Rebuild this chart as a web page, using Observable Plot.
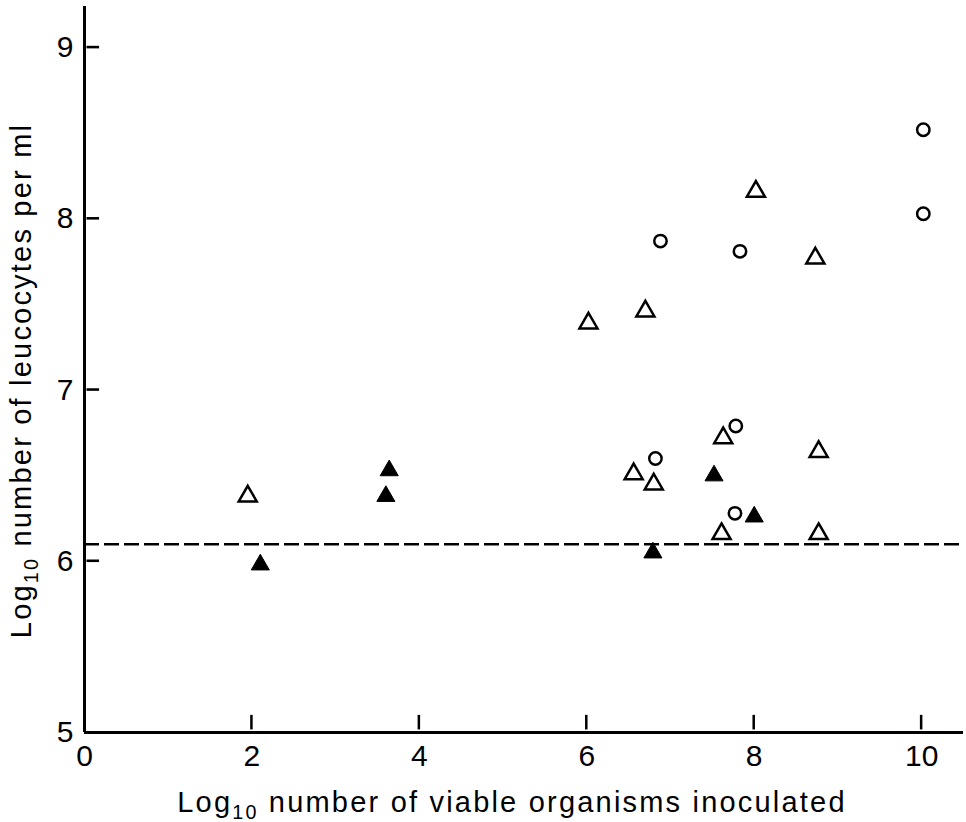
<!DOCTYPE html>
<html><head><meta charset="utf-8">
<script src="https://cdn.jsdelivr.net/npm/d3@7"></script>
<script src="https://cdn.jsdelivr.net/npm/@observablehq/plot@0.6"></script>
<style>
html,body{margin:0;padding:0;background:#fff;}
</style></head><body><div id="chart"></div>
<script>
// Tick values and axis titles
const xTicks = [0, 2, 4, 6, 8, 10];
const yTicks = [5, 6, 7, 8, 9];
const xLabel = "Log10 number of viable organisms inoculated";
const yLabel = "Log10 number of leucocytes per ml";

// Open triangles
const openTriX = [1.95, 6.02, 6.70, 8.02, 8.73, 6.56, 6.80, 7.63, 8.77, 7.61, 8.77];
const openTriY = [6.38, 7.39, 7.46, 8.16, 7.77, 6.51, 6.45, 6.72, 6.64, 6.16, 6.16];
// Open circles
const circleX = [6.82, 7.78, 7.77, 6.88, 7.83, 10.02, 10.02];
const circleY = [6.60, 6.79, 6.28, 7.87, 7.81, 8.52, 8.03];
// Filled triangles
const solidTriX = [2.10, 3.64, 3.60, 6.79, 7.52, 8.00];
const solidTriY = [5.98, 6.53, 6.38, 6.05, 6.50, 6.26];
// Dashed reference level
const baseline = [6.1];

const xDomain = [0, 10.5];
const yDomain = [5, 9.24];
// inward tick geometry, in data units
const yTickStart = 0.03, yTickEnd = 0.18, yTickHalf = 0.0075;
const xTickStart = 0.015, xTickEnd = 0.1, xTickHalf = 0.015;

const toRows = (xs, ys) => xs.map((x, i) => ({x, y: ys[i]}));
const yTickRows = yTicks.slice(1).map(v => ({x1: xDomain[0] + yTickStart, x2: xDomain[0] + yTickEnd, y1: v - yTickHalf, y2: v + yTickHalf}));
const xTickRows = xTicks.slice(1).map(v => ({x1: v - xTickHalf, x2: v + xTickHalf, y1: yDomain[0] + xTickStart, y2: yDomain[0] + xTickEnd}));

const plot = Plot.plot({
  width: 966,
  height: 822,
  marginLeft: 84,
  marginRight: 3,
  marginTop: 6,
  marginBottom: 90,
  style: {fontFamily: "'Liberation Sans', Arial, Helvetica, sans-serif"},
  x: {domain: xDomain},
  y: {domain: yDomain},
  marks: [
    Plot.ruleX([0], {strokeWidth: 3, stroke: "#000"}),
    Plot.ruleY([5], {strokeWidth: 3, stroke: "#000"}),
    Plot.rect(yTickRows, {x1: "x1", x2: "x2", y1: "y1", y2: "y2", fill: "#000"}),
    Plot.rect(xTickRows, {x1: "x1", x2: "x2", y1: "y1", y2: "y2", fill: "#000"}),
    Plot.axisX(xTicks, {tickSize: 0, tickPadding: 12, fontSize: 30, tickFormat: d => String(d), label: null}),
    Plot.axisY(yTicks, {tickSize: 0, tickPadding: 11, fontSize: 30, tickFormat: d => String(d), label: null}),
    Plot.ruleY(baseline, {strokeWidth: 2.5, stroke: "#000", strokeDasharray: "15,5"}),
    Plot.dot(toRows(openTriX, openTriY), {x: "x", y: "y", symbol: "triangle", r: 6.7, stroke: "#000", strokeWidth: 2.5, fill: "white"}),
    Plot.dot(toRows(circleX, circleY), {x: "x", y: "y", symbol: "circle", r: 6.2, stroke: "#000", strokeWidth: 2.5, fill: "white"}),
    Plot.dot(toRows(solidTriX, solidTriY), {x: "x", y: "y", symbol: "triangle", r: 6.7, stroke: "#000", strokeWidth: 1, fill: "#000"}),
    Plot.text([xLabel], {text: d => d, frameAnchor: "bottom", textAnchor: "middle", lineAnchor: "middle", dy: 70, dx: -12, fontSize: 29}),
    Plot.text([yLabel], {text: d => d, frameAnchor: "left", textAnchor: "middle", lineAnchor: "middle", rotate: -90, dx: -63, dy: 11, fontSize: 29})
  ]
});

document.getElementById("chart").appendChild(plot);

// Subscript "10" in the axis titles
d3.select(plot).selectAll("text").each(function() {
  const t = this.textContent;
  if (t.startsWith("Log10")) {
    const el = d3.select(this);
    el.text(null).attr("letter-spacing", "2.2px");
    el.append("tspan").text("Log");
    el.append("tspan").attr("font-size", "0.68em").attr("dy", 7).text("10");
    el.append("tspan").attr("dy", -7).text(t.slice(5));
  }
});
</script>
</body></html>
